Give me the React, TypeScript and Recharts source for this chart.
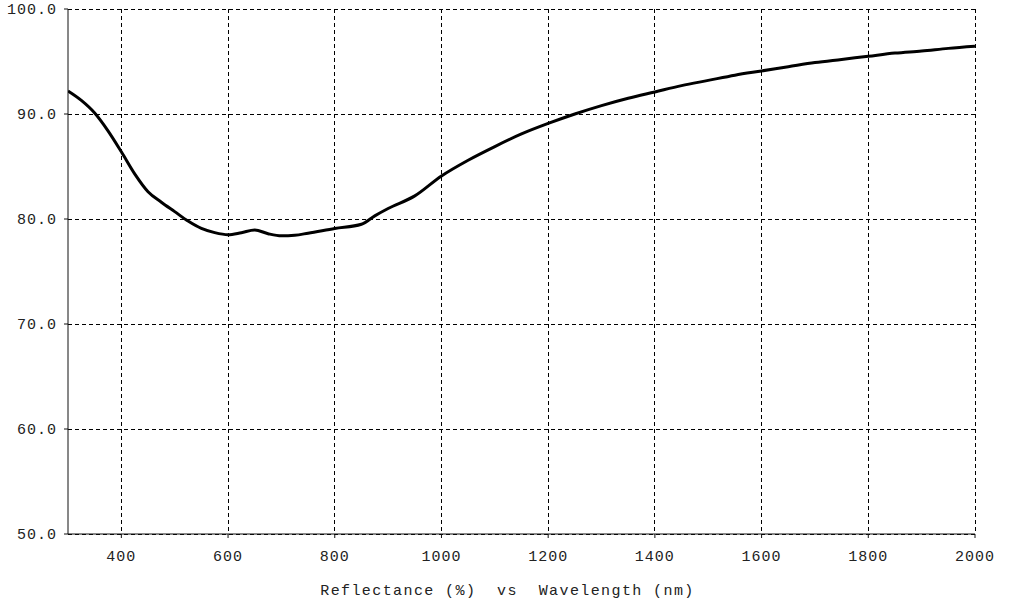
import { LineChart, Line, XAxis, YAxis, CartesianGrid, Label } from 'recharts'

const wavelengths = [
  300, 325, 350, 375, 400, 425, 450, 475, 500, 525, 550, 575, 600, 625, 650, 675, 700, 725, 750,
  800, 850, 875, 900, 950, 1000, 1050, 1100, 1150, 1200, 1250, 1300, 1350, 1400, 1450, 1500,
  1550, 1600, 1650, 1700, 1750, 1800, 1850, 1900, 1950, 2000,
]
const reflectance = [
  92.2, 91.3, 90.1, 88.4, 86.4, 84.3, 82.6, 81.6, 80.7, 79.8, 79.1, 78.7, 78.5, 78.7, 78.95, 78.6, 78.4, 78.45, 78.65,
  79.1, 79.5, 80.3, 81.0, 82.2, 84.1, 85.6, 86.9, 88.1, 89.1, 90.0, 90.8, 91.5, 92.1, 92.7, 93.2,
  93.7, 94.1, 94.5, 94.9, 95.2, 95.5, 95.8, 96.0, 96.25, 96.45,
]
const xTicks = [400, 600, 800, 1000, 1200, 1400, 1600, 1800, 2000]
const yTicks = [50, 60, 70, 80, 90, 100]

const data = wavelengths.map((w, i) => ({ w, r: reflectance[i] }))

const tickStyle = { fontFamily: 'Liberation Mono', fontSize: 15, letterSpacing: 1, fill: '#222' }

export default function App() {
  return (
    <div style={{ position: 'absolute', left: 0, top: 0, width: 1012, height: 606, background: '#fff' }}>
      <LineChart width={1012} height={606} data={data} margin={{ top: 9, right: 37, bottom: 0, left: 0 }}>
        <CartesianGrid
          stroke="#000"
          strokeDasharray="4 3"
          shapeRendering="crispEdges"
          horizontalValues={yTicks}
          verticalValues={xTicks}
        />
        <XAxis
          dataKey="w"
          type="number"
          domain={[300, 2000]}
          ticks={xTicks}
          height={72}
          stroke="#111"
          tickSize={4}
          tickMargin={12}
          tick={tickStyle}
          allowDataOverflow
        >
          <Label
            value={'Reflectance (%)\u00a0\u00a0vs\u00a0\u00a0Wavelength (nm)'}
            position="insideBottom"
            offset={11}
            dx={-14}
            style={{ ...tickStyle, letterSpacing: 1.4 }}
          />
        </XAxis>
        <YAxis
          type="number"
          domain={[50, 100]}
          ticks={yTicks}
          width={68}
          stroke="#111"
          tickSize={4}
          tickMargin={7}
          tick={tickStyle}
          tickFormatter={(v: number) => v.toFixed(1)}
          allowDataOverflow
        />
        <Line
          type="monotone"
          dataKey="r"
          stroke="#000"
          strokeWidth={3}
          dot={false}
          isAnimationActive={false}
        />
      </LineChart>
    </div>
  )
}
